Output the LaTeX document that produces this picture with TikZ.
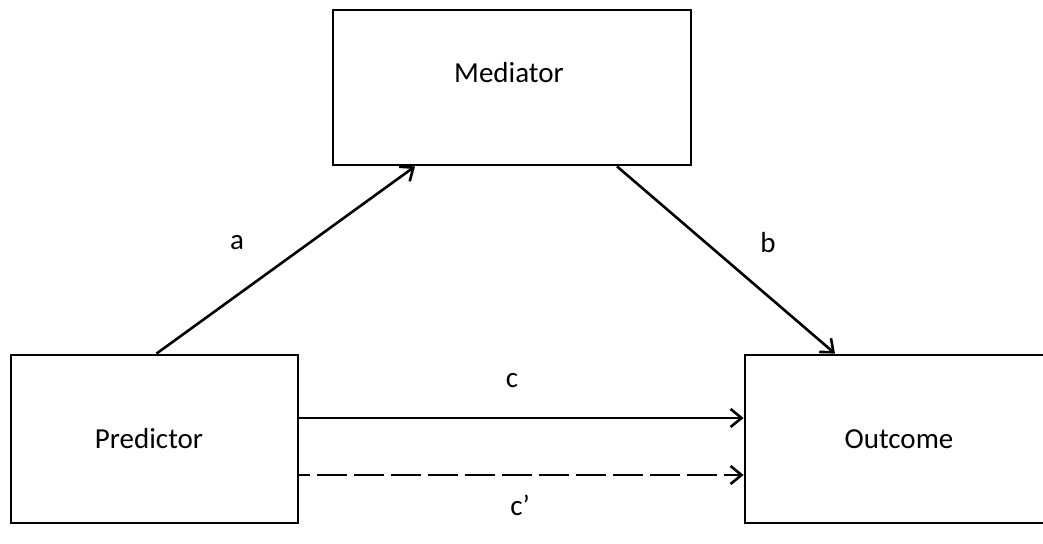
\documentclass[tikz,border=0pt]{standalone}
\usepackage{fontspec}
\setmainfont{Carlito}
\usetikzlibrary{arrows.meta}
\begin{document}
\begin{tikzpicture}[x=1pt,y=1pt,
  box/.style={draw=black,line width=2.8pt,fill=white,inner sep=0pt},
  conn/.style={line width=2.6pt,-{Straight Barb[length=11pt,width=18pt,line width=2.6pt]}},
  lbl/.style={font=\fontsize{29}{33}\selectfont,text=black,inner sep=0pt}]
\useasboundingbox (0,0) rectangle (1043,543);
\clip (0,0) rectangle (1043,543);
\fill[white] (0,0) rectangle (1043,543);
\node[box,minimum width=358pt,minimum height=155pt] (med) at (512,455.5) {};
\node[lbl] (medtext) at (509,470) {Mediator};
\node[box,minimum width=287pt,minimum height=168pt] (pred) at (154.5,104) {};
\node[lbl] (predtext) at (149,104) {Predictor};
\node[box,minimum width=330pt,minimum height=168pt] (out) at (910,104) {};
\node[lbl] (outtext) at (899,104) {Outcome};
\draw[conn] ([xshift=2pt]pred.north) -- ([xshift=-97pt]med.south);
\draw[conn] ([xshift=105pt]med.south) -- ([xshift=-75pt]out.north);
\draw[conn] ([yshift=21pt]pred.east) -- ([yshift=21pt]out.west);
\draw[conn,dash pattern=on 30pt off 7pt,dash phase=-18pt] ([yshift=-36pt]pred.east) -- ([yshift=-36pt]out.west);
\node[lbl] (la) at (237,300) {a};
\node[lbl] (lb) at (768,300) {b};
\node[lbl] (lc) at (512,162) {c};
\node[lbl] (lcp) at (520,38) {c’};
\end{tikzpicture}
\end{document}
